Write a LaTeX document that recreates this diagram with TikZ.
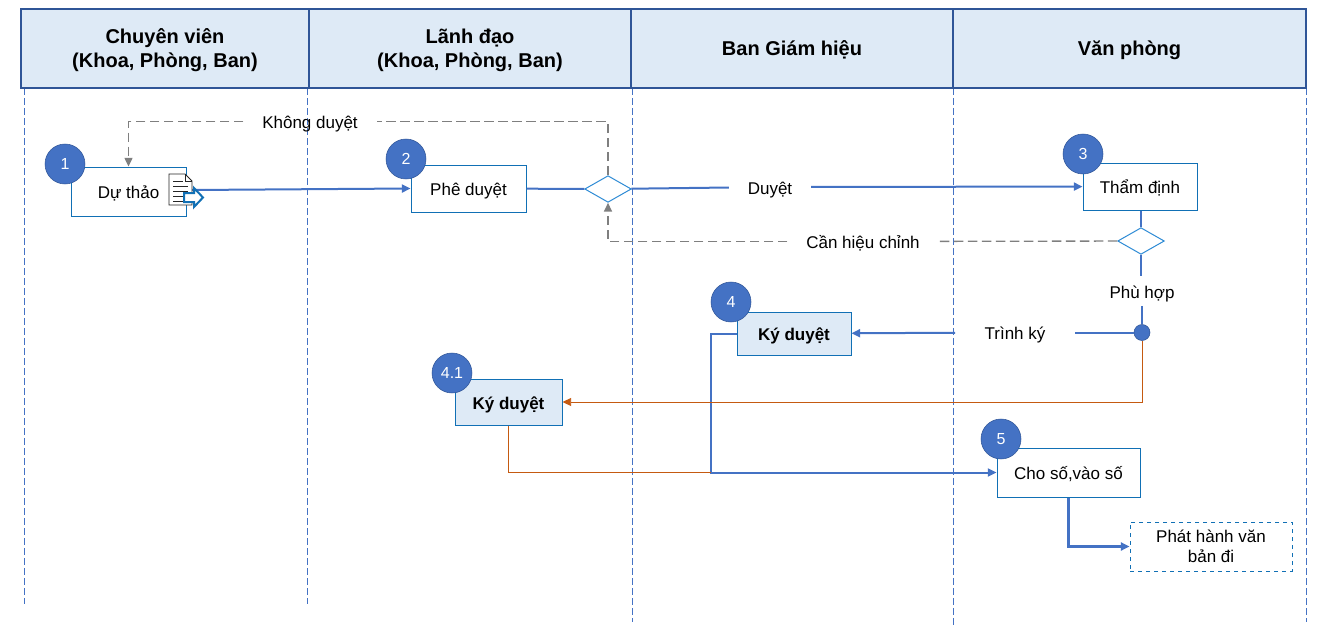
\documentclass[tikz,border=0pt]{standalone}
\usepackage{fontspec}
\setmainfont{Liberation Sans}
\definecolor{headfill}{HTML}{DEEAF6}
\definecolor{headline}{HTML}{2F5597}
\definecolor{flow}{HTML}{4472C4}
\definecolor{boxline}{HTML}{1170B5}
\definecolor{gateline}{HTML}{2E8BD5}
\definecolor{backline}{HTML}{7F7F7F}
\definecolor{signline}{HTML}{C55A11}
\usetikzlibrary{shapes.geometric, arrows.meta}
\newcommand{\headstrut}{\rule{0pt}{13.5pt}}
\begin{document}
\begin{tikzpicture}[
    x=0.75pt, y=-0.75pt,
    >={Triangle[length=6.5pt, width=6pt]},
    head/.style={draw=headline, fill=headfill, line width=1.6pt, minimum height=59pt, align=center, font=\fontsize{15}{18}\selectfont\bfseries, inner sep=0pt},
    lane/.style={draw=flow, line width=0.6pt, dash pattern=on 5pt off 2.5pt},
    stepbox/.style={draw=boxline, fill=white, line width=0.75pt, font=\fontsize{12.75}{15}\selectfont, text height=11.5pt, text depth=0.5pt, inner sep=0pt},
    signbox/.style={stepbox, fill=headfill, font=\fontsize{12.75}{15}\selectfont\bfseries},
    issuebox/.style={draw=boxline, dashed, fill=white, line width=0.75pt, font=\fontsize{12.75}{15}\selectfont, align=center, inner sep=0pt},
    gate/.style={diamond, aspect=1.75, draw=gateline, fill=white, line width=0.75pt, minimum width=35pt, minimum height=20pt, inner sep=0pt},
    num/.style={circle, draw=headline, fill=flow, text=white, minimum size=30pt, inner sep=0pt, font=\fontsize{12}{14}\selectfont},
    lbl/.style={font=\fontsize{12.75}{15}\selectfont, text height=11.5pt, text depth=0.5pt, inner xsep=14pt, inner ysep=5pt},
    flowline/.style={draw=flow, line width=1.5pt},
    backarrow/.style={draw=backline, line width=1pt, dash pattern=on 7pt off 3.5pt},
    signarrow/.style={draw=signline, line width=0.65pt}
  ]
  \useasboundingbox (0,0) rectangle (1320,642);
  % lanes
  \foreach \x/\y in {24/604, 307/604, 632/622, 953/625, 1306/622}
    \draw[lane] (\x,88) -- (\x,\y);
  % header
  \node[head, minimum width=216pt] (h1) at (165,48.5) {\headstrut Chuyên viên\\(Khoa, Phòng, Ban)};
  \node[head, minimum width=241.5pt] (h2) at (470,48.5) {\headstrut Lãnh đạo\\(Khoa, Phòng, Ban)};
  \node[head, minimum width=241.5pt] (h3) at (792,48.5) {\headstrut Ban Giám hiệu};
  \node[head, minimum width=264.75pt] (h4) at (1129.5,48.5) {\headstrut Văn phòng};
  % steps
  \node[stepbox, minimum width=86.25pt, minimum height=36.75pt] (draft) at (128.5,191.5) {Dự thảo};
  \node[stepbox, minimum width=86.25pt, minimum height=35.25pt] (approve) at (468.5,188.5) {Phê duyệt};
  \node[stepbox, minimum width=85.5pt, minimum height=35.25pt] (review) at (1140,186.5) {Thẩm định};
  \node[signbox, minimum width=85.5pt, minimum height=32.25pt] (sign) at (794,333.5) {Ký duyệt};
  \node[signbox, minimum width=80.25pt, minimum height=34.5pt] (signb) at (508.5,402) {Ký duyệt};
  \node[stepbox, minimum width=107.25pt, minimum height=36.75pt] (record) at (1068.5,472.5) {Cho số,vào số};
  \node[issuebox, minimum width=121.5pt, minimum height=36.75pt] (issue) at (1211,546.5) {Phát hành văn\\bản đi};
  \node[gate] (gatea) at (608,189) {};
  \node[gate] (gateb) at (1141,241) {};
  \node[circle, draw=headline, fill=flow, minimum size=12pt, inner sep=0pt] (join) at (1142,332.5) {};
  % labels on the lines
  \node[lbl] (reject) at (310,121.5) {Không duyệt};
  \node[lbl] (pass) at (770,187) {Duyệt};
  \node[lbl] (fix) at (863,241.5) {Cần hiệu chỉnh};
  \node[lbl, inner xsep=2pt] (fit) at (1142,291) {Phù hợp};
  \node[lbl, inner xsep=22pt] (submit) at (1015,332.5) {Trình ký};
  \coordinate (docout) at (192,190);
  \coordinate (turn) at (711,333.5);
  % connectors
  \draw[flowline, ->] (docout) -- (approve.west);
  \draw[flowline] (approve) -- (gatea);
  \draw[flowline] (gatea) -- (pass);
  \draw[flowline, ->] (pass) -- (review);
  \draw[flowline] (review.south -| gateb) -- (gateb);
  \draw[flowline] (gateb) -- (fit.north -| gateb);
  \draw[flowline] (fit.south -| join) -- (join);
  \draw[flowline] (join) -- (submit);
  \draw[flowline, ->] (submit) -- (sign);
  \draw[flowline, ->] (sign.west) -- (turn) |- (record.west);
  \draw[signarrow, ->] (join) |- (signb.east);
  \draw[signarrow] (signb) |- (turn |- record.west);
  \draw[flowline, line width=2.2pt, ->] (record.south) |- (issue.west);
  \draw[backarrow] (gatea.north) |- (reject);
  \draw[backarrow, ->] (reject) -| (draft.north);
  \draw[backarrow] (gateb) -- (fix);
  \draw[backarrow, ->] (fix) -| (gatea.south);
  % document icon
  \filldraw[fill=white, draw=black!85, line width=0.7pt] (169,174) -- (185,174) -- (192,181) -- (192,205) -- (169,205) -- cycle;
  \draw[black!85, line width=0.7pt] (185,174) -- (185,181) -- (192,181)
    (173,181) -- (183,181) (173,186) -- (188,186) (173,191) -- (188,191) (173,196) -- (188,196) (173,201) -- (188,201);
  \filldraw[fill=white, draw=boxline, line width=1.5pt] (184,193) -- (194,193) -- (194,188) -- (203,197.5) -- (194,207) -- (194,202) -- (184,202) -- cycle;
  % numbers
  \node[num] (1) at (65,164) {1};
  \node[num] (2) at (406,159) {2};
  \node[num] (3) at (1083,154) {3};
  \node[num] (4) at (731,302) {4};
  \node[num] (41) at (452,373) {4.1};
  \node[num] (5) at (1001,439) {5};
\end{tikzpicture}
\end{document}
